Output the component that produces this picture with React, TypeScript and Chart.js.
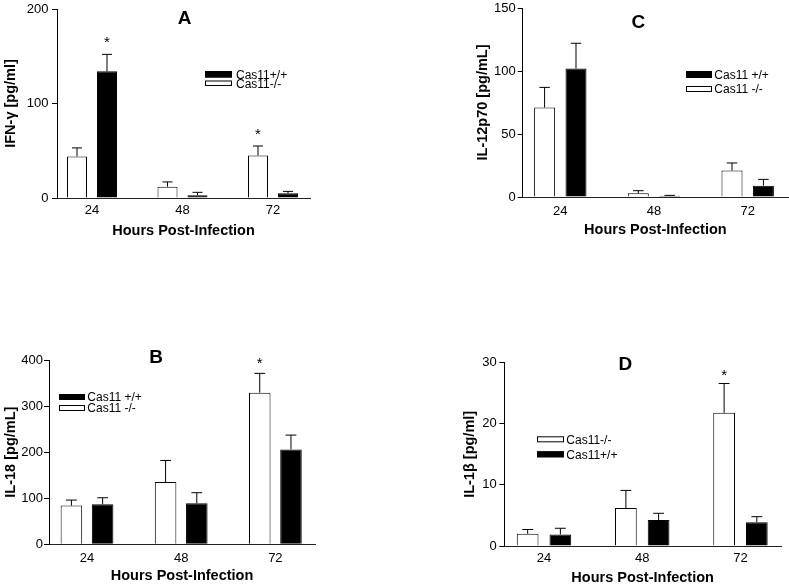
import React, { useEffect, useRef } from "react";
import { Chart, registerables } from "chart.js";

Chart.register(...registerables);

const FONT = "'Liberation Sans', Arial, Helvetica, sans-serif";
const W = 789;
const H = 584;

// ---------- data ----------
const hours = [24, 48, 72];

// Panel A: IFN-γ
const aKO = [44, 12, 45];
const aKOErr = [9, 5, 10];
const aWT = [134, 3, 5];
const aWTErr = [18, 3, 2];
const aSigKO = [false, false, true];
const aSigWT = [true, false, false];

// Panel C: IL-12p70
const cKO = [71, 3, 21];
const cKOErr = [16, 2, 6];
const cWT = [102, 1, 9];
const cWTErr = [20, 0.3, 5];
const cSigKO = [false, false, false];
const cSigWT = [false, false, false];

// Panel B: IL-18
const bKO = [84, 135, 329];
const bKOErr = [12, 47, 42];
const bWT = [87, 89, 206];
const bWTErr = [14, 23, 31];
const bSigKO = [false, false, true];
const bSigWT = [false, false, false];

// Panel D: IL-1β
const dKO = [2.0, 6.2, 21.8];
const dKOErr = [0.7, 2.9, 4.8];
const dWT = [1.9, 4.25, 3.9];
const dWTErr = [1.0, 1.1, 0.9];
const dSigKO = [false, false, true];
const dSigWT = [false, false, false];

const xTitle = "Hours Post-Infection";

// ---------- layout ----------
type LegendItem = { series: "ko" | "wt"; label: string; y: number; h: number };
type Panel = {
  letter: string;
  yTitle: string;
  yMax: number;
  yStep: number;
  ko: number[];
  koErr: number[];
  wt: number[];
  wtErr: number[];
  koSig: boolean[];
  wtSig: boolean[];
  area: { L: number; R: number; T: number; B: number };
  xMin: number;
  xMax: number;
  catPct: number;
  barPct: number;
  yTitleX: number;
  xTitleY: number;
  yTickPad: number;
  xTickPad: number;
  letterX: number;
  letterY: number;
  starGap: number;
  legendX: number;
  legendW: number;
  legendTextX: number;
  legend: LegendItem[];
};

const panels: Panel[] = [
  {
    letter: "A",
    yTitle: "IFN-γ [pg/ml]",
    yMax: 200,
    yStep: 100,
    ko: aKO, koErr: aKOErr, wt: aWT, wtErr: aWTErr, koSig: aSigKO, wtSig: aSigWT,
    area: { L: 57, R: 310, T: 9, B: 198 },
    xMin: 14.72, xMax: 81.81, catPct: 0.663, barPct: 0.667,
    yTitleX: 11, xTitleY: 231, yTickPad: 3.5, xTickPad: 5,
    letterX: 184.7, letterY: 17, starGap: 16,
    legendX: 205, legendW: 27, legendTextX: 236,
    legend: [
      { series: "wt", label: "Cas11+/+", y: 71, h: 6.5 },
      { series: "ko", label: "Cas11-/-", y: 80.5, h: 5.5 },
    ],
  },
  {
    letter: "C",
    yTitle: "IL-12p70 [pg/mL]",
    yMax: 150,
    yStep: 50,
    ko: cKO, koErr: cKOErr, wt: cWT, wtErr: cWTErr, koSig: cSigKO, wtSig: cSigWT,
    area: { L: 522.7, R: 788, T: 8, B: 197 },
    xMin: 14.37, xMax: 82.32, catPct: 0.67, barPct: 0.669,
    yTitleX: 483.3, xTitleY: 230, yTickPad: 2, xTickPad: 6.5,
    letterX: 638.3, letterY: 21.3, starGap: 14,
    legendX: 686, legendW: 26, legendTextX: 714.3,
    legend: [
      { series: "wt", label: "Cas11 +/+", y: 71, h: 7 },
      { series: "ko", label: "Cas11 -/-", y: 86, h: 6 },
    ],
  },
  {
    letter: "B",
    yTitle: "IL-18 [pg/mL]",
    yMax: 400,
    yStep: 100,
    ko: bKO, koErr: bKOErr, wt: bWT, wtErr: bWTErr, koSig: bSigKO, wtSig: bSigWT,
    area: { L: 49, R: 315, T: 360, B: 544.3 },
    xMin: 14.31, xMax: 82.1, catPct: 0.663, barPct: 0.69,
    yTitleX: 10.5, xTitleY: 576, yTickPad: 1, xTickPad: 6,
    letterX: 156, letterY: 356, starGap: 14,
    legendX: 59, legendW: 26, legendTextX: 87.3,
    legend: [
      { series: "wt", label: "Cas11 +/+", y: 394, h: 6 },
      { series: "ko", label: "Cas11 -/-", y: 405, h: 6 },
    ],
  },
  {
    letter: "D",
    yTitle: "IL-1β [pg/ml]",
    yMax: 30,
    yStep: 10,
    ko: dKO, koErr: dKOErr, wt: dWT, wtErr: dWTErr, koSig: dSigKO, wtSig: dSigWT,
    area: { L: 504.3, R: 781, T: 362.7, B: 546 },
    xMin: 14.3, xMax: 81.9, catPct: 0.666, barPct: 0.664,
    yTitleX: 469.7, xTitleY: 577.5, yTickPad: 2.5, xTickPad: 5,
    letterX: 625.3, letterY: 362.7, starGap: 12,
    legendX: 537, legendW: 27, legendTextX: 566.3,
    legend: [
      { series: "ko", label: "Cas11-/-", y: 436.3, h: 6 },
      { series: "wt", label: "Cas11+/+", y: 451.3, h: 6 },
    ],
  },
];

const TITLE_SIZE = 14.5;
const TITLE_PAD_X = -4;
const STAR_SIZE = 15;

function makeChart(canvas: HTMLCanvasElement, p: Panel) {
  const half = TITLE_SIZE / 2;
  const boxLeft = p.yTitleX - half;
  const yW = p.area.L - boxLeft;
  const xBottom = p.xTitleY + half + TITLE_PAD_X;
  const xH = xBottom - p.area.B;

  const decor = {
    id: "decor" + p.letter,
    afterDatasetsDraw(chart: any) {
      const ctx: CanvasRenderingContext2D = chart.ctx;
      const ys = chart.scales.y;
      const series = [
        { vals: p.ko, errs: p.koErr, sig: p.koSig },
        { vals: p.wt, errs: p.wtErr, sig: p.wtSig },
      ];
      ctx.save();
      ctx.lineWidth = 1;
      series.forEach((s, di) => {
        const meta = chart.getDatasetMeta(di);
        meta.data.forEach((el: any, i: number) => {
          const x = el.x;
          const top = el.y;
          const w = el.width;
          const yErr = ys.getPixelForValue(s.vals[i] + s.errs[i]);
          ctx.strokeStyle = "#000";
          ctx.beginPath();
          ctx.moveTo(x, top);
          ctx.lineTo(x, yErr);
          ctx.moveTo(x - w / 4, yErr);
          ctx.lineTo(x + w / 4, yErr);
          ctx.stroke();
          if (s.sig[i]) {
            ctx.fillStyle = "#000";
            ctx.font = `${STAR_SIZE}px ${FONT}`;
            ctx.textAlign = "center";
            ctx.textBaseline = "alphabetic";
            ctx.fillText("*", x, yErr - p.starGap + 0.57 * STAR_SIZE);
          }
        });
      });
      ctx.fillStyle = "#000";
      ctx.font = `bold 19px ${FONT}`;
      ctx.textAlign = "center";
      ctx.textBaseline = "alphabetic";
      ctx.fillText(p.letter, p.letterX, p.letterY + (0.716 * 19) / 2);

      p.legend.forEach((item) => {
        ctx.fillStyle = item.series === "wt" ? "#000" : "#fff";
        ctx.fillRect(p.legendX, item.y, p.legendW, item.h);
        ctx.strokeStyle = "#000";
        ctx.strokeRect(p.legendX + 0.5, item.y + 0.5, p.legendW - 1, item.h - 1);
        ctx.fillStyle = "#000";
        ctx.font = `12px ${FONT}`;
        ctx.textAlign = "left";
        ctx.fillText(item.label, p.legendTextX, item.y + item.h / 2 + (0.716 * 12) / 2);
      });
      ctx.restore();
    },
  };

  return new Chart(canvas, {
    type: "bar",
    data: {
      datasets: [
        {
          label: "Cas11-/-",
          data: hours.map((h, i) => ({ x: h, y: p.ko[i] })),
          backgroundColor: "#ffffff",
          borderColor: "#000000",
          borderWidth: 1,
          categoryPercentage: p.catPct,
          barPercentage: p.barPct,
        },
        {
          label: "Cas11+/+",
          data: hours.map((h, i) => ({ x: h, y: p.wt[i] })),
          backgroundColor: "#000000",
          borderColor: "#000000",
          borderWidth: 1,
          categoryPercentage: p.catPct,
          barPercentage: p.barPct,
        },
      ] as any,
    },
    options: {
      responsive: false,
      maintainAspectRatio: false,
      devicePixelRatio: 1,
      animation: false,
      events: [],
      layout: {
        padding: {
          left: boxLeft,
          right: W - p.area.R,
          top: p.area.T,
          bottom: H - xBottom,
        },
      },
      plugins: {
        legend: { display: false },
        title: { display: false },
        tooltip: { enabled: false },
      },
      scales: {
        x: {
          type: "linear",
          min: p.xMin,
          max: p.xMax,
          offset: false,
          grid: { display: false, drawTicks: false },
          border: { display: true, color: "#222", width: 1 },
          afterBuildTicks: (s: any) => {
            s.ticks = hours.map((v) => ({ value: v }));
          },
          afterFit: (s: any) => {
            s.height = xH;
            s.paddingLeft = 0;
            s.paddingRight = 0;
            s.paddingTop = 0;
            s.paddingBottom = 0;
          },
          ticks: {
            color: "#000",
            font: { family: FONT, size: 13 },
            padding: p.xTickPad,
            maxRotation: 0,
            autoSkip: false,
          },
          title: {
            display: true,
            text: xTitle,
            color: "#000",
            font: { family: FONT, size: TITLE_SIZE, weight: "bold", lineHeight: 1 },
            padding: { top: 0, bottom: TITLE_PAD_X },
          },
        },
        y: {
          type: "linear",
          min: 0,
          max: p.yMax,
          grid: {
            display: true,
            drawOnChartArea: false,
            drawTicks: true,
            tickLength: 5,
            color: "#000",
          },
          border: { display: true, color: "#000", width: 1 },
          afterFit: (s: any) => {
            s.width = yW;
            s.paddingLeft = 0;
            s.paddingRight = 0;
            s.paddingTop = 0;
            s.paddingBottom = 0;
          },
          ticks: {
            stepSize: p.yStep,
            color: "#000",
            font: { family: FONT, size: 13 },
            padding: p.yTickPad,
          },
          title: {
            display: true,
            text: p.yTitle,
            color: "#000",
            font: { family: FONT, size: TITLE_SIZE, weight: "bold", lineHeight: 1 },
            padding: { top: 0, bottom: 0 },
          },
        },
      },
    } as any,
    plugins: [decor],
  });
}

export default function App() {
  const refs = useRef<(HTMLCanvasElement | null)[]>([]);

  useEffect(() => {
    const charts: Chart[] = [];
    panels.forEach((p, i) => {
      const c = refs.current[i];
      if (c) charts.push(makeChart(c, p));
    });
    return () => {
      charts.forEach((c) => c.destroy());
    };
  }, []);

  return (
    <div
      style={{
        position: "fixed",
        left: 0,
        top: 0,
        width: W,
        height: H,
        background: "#fff",
        overflow: "hidden",
      }}
    >
      {panels.map((p, i) => (
        <canvas
          key={p.letter}
          ref={(el) => {
            refs.current[i] = el;
          }}
          width={W}
          height={H}
          style={{ position: "absolute", left: 0, top: 0, width: W, height: H }}
        />
      ))}
    </div>
  );
}
